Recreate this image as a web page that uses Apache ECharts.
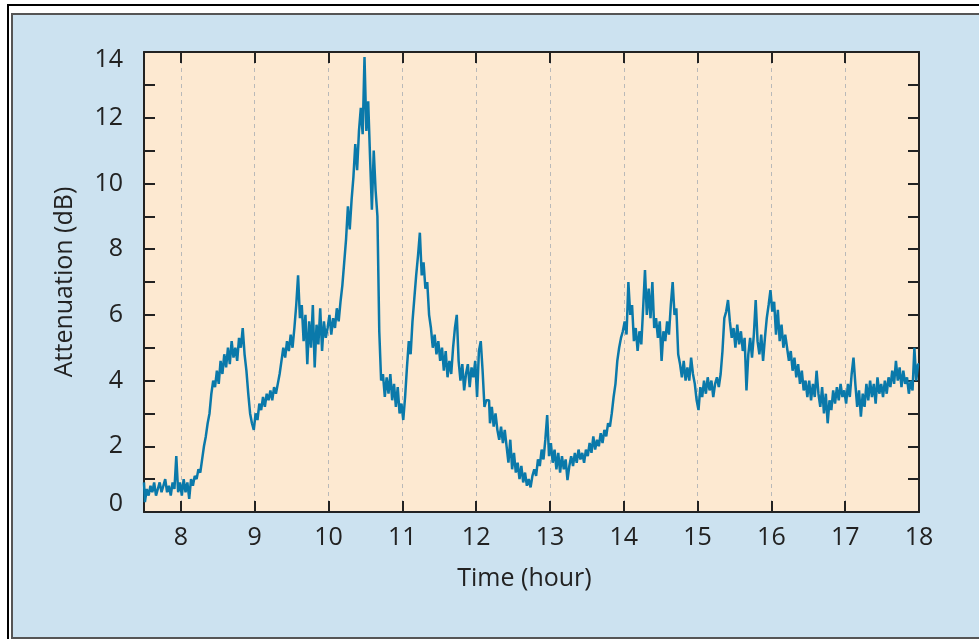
<!DOCTYPE html>
<html>
<head>
<meta charset="utf-8">
<script src="https://cdn.jsdelivr.net/npm/echarts@6/dist/echarts.min.js"></script>
<style>
  html, body { margin: 0; padding: 0; background: #ffffff; overflow: hidden; }
  #outerFrame {
    position: absolute; left: 7px; top: 4px; width: 1200px; height: 1200px;
    border-top: 2px solid #000; border-left: 2px solid #000;
  }
  #panel {
    position: absolute; left: 11px; top: 13px; width: 1200px; height: 622px;
    background: #cce2f0;
    border-top: 2px solid #555; border-left: 2px solid #555; border-bottom: 2px solid #555;
  }
  #chart { position: absolute; left: 0; top: 0; width: 979px; height: 639px; }
</style>
</head>
<body>
<div id="outerFrame"></div>
<div id="panel"></div>
<div id="chart"></div>
<script>
// Sampling of the attenuation record: one value every 0.025 h from 07:30 to 18:00
const startHour = 7.5;
const stepHour = 0.025;

// Attenuation in dB, half-hour blocks of 20 samples each
const attenuation = [
  // 7.5 - 8.0
  0.9, 0.3, 0.7, 0.5, 0.8, 0.6, 0.9, 0.5, 0.7, 0.9, 0.6, 0.8, 1.0, 0.6, 0.8, 0.5, 0.9, 0.7, 1.7, 0.6,
  // 8.0 - 8.5
  0.9, 0.5, 1.0, 0.6, 0.9, 0.4, 1.0, 0.8, 1.1, 1.0, 1.3, 1.2, 1.6, 2.0, 2.3, 2.7, 3.0, 3.6, 4.0, 3.8,
  // 8.5 - 9.0
  4.3, 3.9, 4.6, 4.2, 4.8, 4.4, 5.0, 4.5, 5.2, 4.7, 5.0, 4.6, 5.3, 5.0, 5.6, 4.8, 4.3, 3.6, 3.0, 2.7,
  // 9.0 - 9.5
  2.5, 3.0, 2.8, 3.3, 3.1, 3.5, 3.2, 3.6, 3.4, 3.7, 3.4, 3.8, 3.6, 3.9, 4.2, 4.6, 5.0, 4.7, 5.2, 4.9,
  // 9.5 - 10.0
  5.4, 5.0, 5.6, 6.3, 7.2, 5.9, 6.3, 5.2, 6.0, 4.5, 5.8, 5.0, 6.3, 4.4, 5.7, 5.1, 6.2, 4.9, 5.8, 5.3,
  // 10.0 - 10.5
  5.6, 6.0, 5.4, 5.9, 5.6, 6.2, 5.8, 6.4, 6.9, 7.6, 8.3, 9.3, 8.6, 9.5, 10.2, 11.2, 10.4, 11.6, 12.3, 11.5,
  // 10.5 - 11.0
  13.85, 11.6, 12.5, 10.8, 9.2, 11.0, 9.8, 9.0, 5.5, 4.0, 4.2, 3.5, 4.1, 3.6, 4.2, 3.4, 3.9, 3.2, 3.8, 3.0,
  // 11.0 - 11.5
  3.3, 2.8, 3.5, 4.4, 5.2, 4.8, 5.8, 6.5, 7.2, 7.8, 8.5, 7.2, 7.6, 6.8, 7.0, 6.0, 5.6, 5.0, 5.4, 4.8,
  // 11.5 - 12.0
  5.2, 4.6, 5.0, 4.3, 4.9, 4.1, 4.6, 4.2, 5.0, 5.6, 6.0, 4.6, 4.0, 4.5, 3.7, 4.2, 4.5, 3.8, 4.4, 4.1,
  // 12.0 - 12.5
  4.6, 3.5, 4.9, 5.2, 4.3, 3.2, 3.4, 3.4, 2.7, 3.2, 2.6, 3.0, 2.5, 2.2, 2.6, 2.1, 2.5, 2.0, 1.5, 2.2,
  // 12.5 - 13.0
  1.3, 1.8, 1.2, 1.5, 1.0, 1.4, 0.9, 1.2, 0.8, 1.0, 0.75, 1.1, 1.3, 1.1, 1.6, 1.4, 1.9, 1.6, 2.2, 2.95,
  // 13.0 - 13.5
  1.7, 2.1, 1.5, 1.9, 1.3, 1.8, 1.2, 1.7, 1.3, 1.6, 0.97, 1.4, 1.7, 1.4, 1.8, 1.5, 1.9, 1.6, 1.8, 1.5,
  // 13.5 - 14.0
  1.9, 1.7, 2.1, 1.8, 2.3, 1.9, 2.2, 2.0, 2.4, 2.1, 2.5, 2.3, 2.7, 2.6, 3.0, 3.5, 3.9, 4.6, 5.0, 5.3,
  // 14.0 - 14.5
  5.5, 5.8, 5.4, 7.0, 6.0, 6.3, 5.2, 5.6, 4.9, 5.5, 5.1, 6.2, 7.36, 6.0, 6.8, 5.9, 7.0, 5.6, 5.9, 5.3,
  // 14.5 - 15.0
  5.8, 4.6, 5.5, 5.2, 5.8, 5.4, 6.3, 7.0, 6.0, 6.2, 4.8, 4.5, 4.1, 4.6, 4.0, 4.4, 4.0, 4.7, 4.2, 3.9,
  // 15.0 - 15.5
  3.4, 3.1, 3.8, 3.5, 4.0, 3.6, 4.1, 3.7, 4.0, 3.5, 3.9, 4.1, 3.8, 4.2, 4.9, 5.9, 6.1, 6.45, 5.8, 5.3,
  // 15.5 - 16.0
  5.6, 5.0, 5.7, 5.1, 5.5, 4.9, 5.3, 3.7, 4.8, 5.3, 4.7, 5.4, 6.45, 5.2, 4.8, 5.4, 4.6, 5.3, 5.9, 6.3,
  // 16.0 - 16.5
  6.75, 6.1, 6.4, 5.4, 6.15, 5.2, 5.7, 5.0, 5.4, 5.0, 4.6, 4.9, 4.3, 4.7, 4.1, 4.5, 3.9, 4.3, 3.7, 4.0,
  // 16.5 - 17.0
  3.5, 4.0, 3.4, 3.9, 3.5, 4.3, 3.6, 3.2, 3.8, 3.0, 3.6, 2.7, 3.4, 3.1, 3.7, 3.3, 3.8, 3.4, 3.9, 3.5,
  // 17.0 - 17.5
  3.7, 3.3, 3.9, 3.5, 4.2, 4.7, 3.9, 3.2, 3.7, 2.9, 3.6, 3.2, 3.9, 3.4, 4.0, 3.5, 3.9, 3.3, 4.1, 3.6,
  // 17.5 - 18.0
  3.9, 3.5, 4.0, 3.6, 4.1, 3.8, 4.3, 3.9, 4.6, 4.0, 4.4, 3.8, 4.3, 3.9, 4.1, 3.6, 4.0, 3.7, 5.0, 4.0, 4.5
];

// Axis ticks and labels
const hourTicks = [8, 9, 10, 11, 12, 13, 14, 15, 16, 17, 18];
const dbTicks = [0, 2, 4, 6, 8, 10, 12, 14];

const fontFamily = '"Open Sans", "DejaVu Sans", sans-serif';
const ink = '#222222';
const lineColor = '#0a79aa';

const points = attenuation.map((v, i) => [startHour + i * stepHour, v]);

const frameLine = { show: true, onZero: false, lineStyle: { color: ink, width: 2 } };
const innerTick = { show: true, inside: true, length: 11, lineStyle: { color: ink, width: 2 } };

const chart = echarts.init(document.getElementById('chart'), null, { renderer: 'canvas' });
chart.setOption({
  animation: false,
  backgroundColor: 'transparent',
  grid: {
    left: 144, right: 60, top: 52, bottom: 127,
    show: true, backgroundColor: '#fde9d1', borderWidth: 0
  },
  xAxis: [
    {
      type: 'value', position: 'bottom', min: 7.5, max: 18,
      name: 'Time (hour)', nameLocation: 'middle', nameGap: 54, nameMoveOverlap: false,
      nameTextStyle: { fontSize: 25, color: ink, fontFamily: fontFamily, padding: [0, 14, 0, 0] },
      axisLine: frameLine,
      axisTick: Object.assign({}, innerTick, { customValues: hourTicks }),
      axisLabel: { customValues: hourTicks, margin: 13, fontSize: 25, color: ink, fontFamily: fontFamily },
      splitLine: { show: true, lineStyle: { color: '#b9b9b9', width: 1, type: [4, 4] } }
    },
    {
      type: 'value', position: 'top', min: 7.5, max: 18,
      axisLine: frameLine,
      axisTick: Object.assign({}, innerTick, { customValues: hourTicks }),
      axisLabel: { show: false, customValues: hourTicks },
      splitLine: { show: false }
    }
  ],
  yAxis: [
    {
      type: 'value', position: 'left', min: 0, max: 14, interval: 1,
      name: 'Attenuation (dB)', nameLocation: 'middle', nameGap: 67, nameMoveOverlap: false,
      nameTextStyle: { fontSize: 25, color: ink, fontFamily: fontFamily },
      axisLine: frameLine,
      axisTick: innerTick,
      axisLabel: {
        margin: 21, fontSize: 25, lineHeight: 16, color: ink, fontFamily: fontFamily,
        verticalAlignMinLabel: 'bottom', verticalAlignMaxLabel: 'top',
        formatter: v => (dbTicks.indexOf(v) >= 0 ? String(v) : '')
      },
      splitLine: { show: false }
    },
    {
      type: 'value', position: 'right', min: 0, max: 14, interval: 1,
      axisLine: frameLine,
      axisTick: innerTick,
      axisLabel: { show: false },
      splitLine: { show: false }
    }
  ],
  series: [
    {
      type: 'line',
      xAxisIndex: 0, yAxisIndex: 0,
      data: points,
      step: 'middle',
      showSymbol: false,
      lineStyle: { color: lineColor, width: 2.5 },
      z: 3
    }
  ]
});
</script>
</body>
</html>
